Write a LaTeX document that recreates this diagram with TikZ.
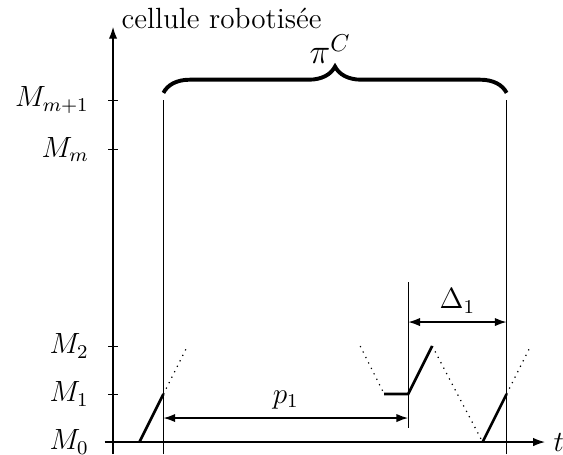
\documentclass[tikz,border=0pt]{standalone}
\usepackage{tikz}
\usetikzlibrary{arrows.meta, decorations.pathreplacing, positioning}

\begin{document}
\begin{tikzpicture}[
            x=0.346cm, y=0.346cm,
            every node/.style={font=\large},
            axe/.style={line width=0.5pt, -{Latex[length=1.7mm, width=1.2mm]}},
            repere/.style={line width=0.4pt},
            mvt/.style={line width=1.1pt},
            vide/.style={line width=0.5pt, dotted},
            cote/.style={line width=0.6pt, {Latex[length=1.7mm, width=1.2mm]}-{Latex[length=1.7mm, width=1.2mm]}},
            lbl/.style={anchor=east}
        ]
            \useasboundingbox (-4.71,-0.54) rectangle (18.75,18.42);

            % Axes
            \coordinate (ybas) at (0,-0.5);
            \coordinate (yhaut) at (0,17.3);
            \coordinate (xg) at (-0.35,0);
            \coordinate (xd) at (18,0);
            \draw [axe] (ybas) -- (yhaut);
            \draw [axe] (xg) -- (xd);
            \node (cellule) [anchor=base west] at (0,17.25) {cellule robotisée};
            \node (tlabel) [right=0pt of xd] {$t$};

            % Machines
            \foreach \y/\nom/\txt in {0/m0/M_0, 2/m1/M_1, 4/m2/M_2, 12.2/mm/M_m, 14.25/mmp/M_{m+1}} {
                \draw [repere] (-0.2,\y) -- (0.2,\y);
                \node (\nom) [lbl] at (-0.65,\y) {$\txt$};
            }

            % Lignes verticales du cycle
            \coordinate (g1) at (2.1,-0.5);
            \coordinate (g2) at (2.1,14.25);
            \coordinate (d1) at (16.4,-0.5);
            \coordinate (d2) at (16.4,14.25);
            \coordinate (c1) at (12.3,0.6);
            \coordinate (c2) at (12.3,6.65);
            \draw [repere] (g1) -- (g2);
            \draw [repere] (d1) -- (d2);
            \draw [repere] (c1) -- (c2);

            % Accolade du cycle
            \coordinate (ag) at (2.1,14.55);
            \coordinate (ad) at (16.4,14.55);
            \draw [decorate, decoration={brace, amplitude=10.8pt}, line width=1.6pt] (ag) -- (ad);
            \node (pic) [above, font=\Large] at (9.05,15.4) {$\pi^C$};

            % Mouvements du robot
            \coordinate (r0) at (1.1,0);
            \coordinate (r1) at (2.1,2);
            \coordinate (r2) at (3.05,3.9);
            \coordinate (r3) at (10.3,4);
            \coordinate (r4) at (11.3,2);
            \coordinate (r5) at (12.3,2);
            \coordinate (r6) at (13.3,4);
            \coordinate (r7) at (15.4,0);
            \coordinate (r8) at (16.4,2);
            \coordinate (r9) at (17.35,3.9);
            \draw [mvt] (r0) -- (r1);
            \draw [vide] (r1) -- (r2);
            \draw [vide] (r3) -- (r4);
            \draw [mvt] (r4) -- (r5) -- (r6);
            \draw [vide] (r6) -- (r7);
            \draw [mvt] (r7) -- (r8);
            \draw [vide] (r8) -- (r9);

            % Cotes
            \coordinate (pa) at (2.1,1);
            \coordinate (pb) at (12.3,1);
            \coordinate (da) at (12.3,5);
            \coordinate (db) at (16.4,5);
            \draw [cote] (pa) -- node (p1) [above] {$p_1$} (pb);
            \draw [cote] (da) -- node (delta1) [above] {$\Delta_1$} (db);

        \end{tikzpicture}
\end{document}
